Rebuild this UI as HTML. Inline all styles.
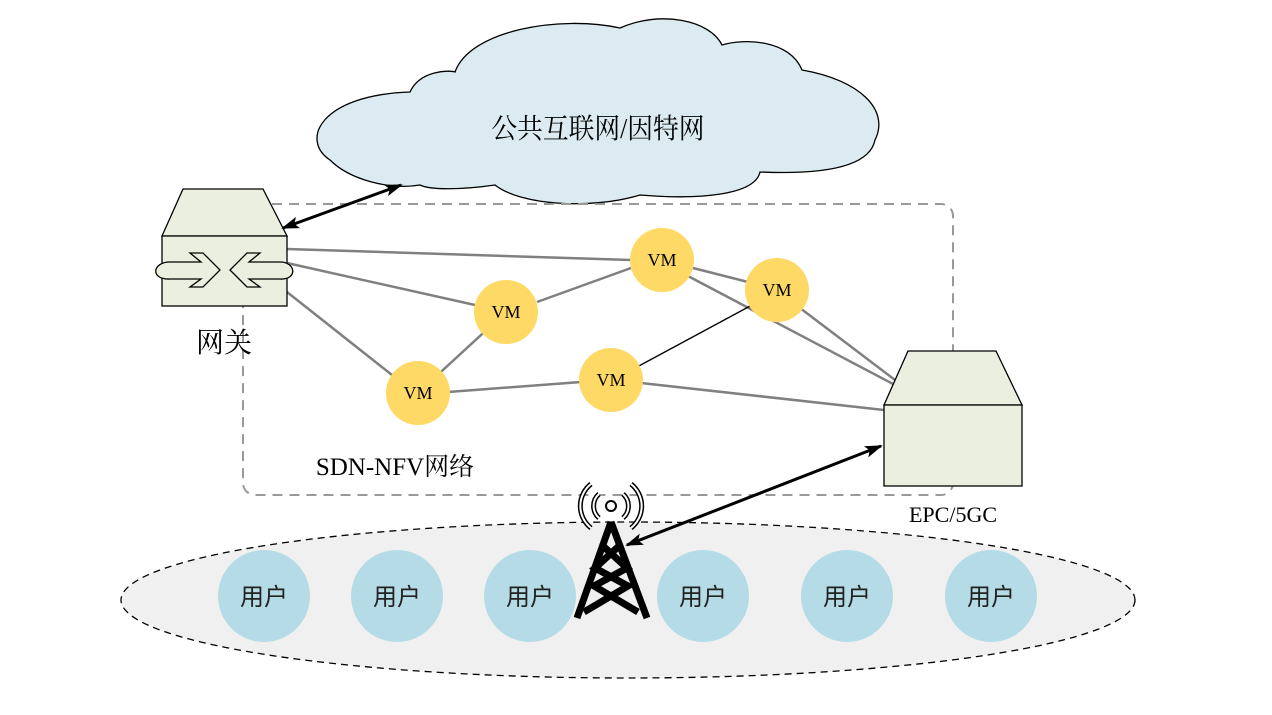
<!DOCTYPE html>
<html><head><meta charset="utf-8"><style>body{margin:0;background:#fff}svg{display:block}</style></head><body>
<svg width="1272" height="715" viewBox="0 0 1272 715" xmlns="http://www.w3.org/2000/svg" font-family="Liberation Serif, Noto Serif CJK SC, serif">
<defs><marker id="a" markerWidth="18" markerHeight="12" refX="16" refY="6" orient="auto-start-reverse" markerUnits="userSpaceOnUse"><path d="M0,0 L18,6 L0,12 L4,6z" fill="#000"/></marker></defs>
<path d="M330,160 C300,140 320,95 410,92 C420,70 450,70 455,72 C470,30 560,15 620,28 C660,10 710,20 722,45 C745,38 790,40 802,70 C860,80 890,110 875,140 C870,165 830,175 760,172 C755,195 700,200 640,195 C590,210 520,205 495,185 C460,190 430,190 420,185 C390,190 350,180 330,160 Z" fill="#dbebf1" stroke="#000" stroke-width="1.3"/>
<text x="598" y="138" font-size="28" text-anchor="middle" transform="translate(598 0) scale(0.92 1) translate(-598 0)">公共互联网/因特网</text>
<rect x="243" y="204" width="710" height="291" rx="12" fill="none" stroke="#999" stroke-width="2" stroke-dasharray="10,7"/>
<text x="395" y="475" font-size="25" text-anchor="middle">SDN-NFV网络</text>
<ellipse cx="628" cy="600" rx="507" ry="78" fill="#f0f0f0" stroke="#000" stroke-width="1.3" stroke-dasharray="7,5"/>
<g fill="#b5dce6"><circle cx="264" cy="596" r="46"/><circle cx="397" cy="596" r="46"/><circle cx="530" cy="596" r="46"/><circle cx="703" cy="596" r="46"/><circle cx="847" cy="596" r="46"/><circle cx="991" cy="596" r="46"/></g>
<g font-size="24" text-anchor="middle" font-family="Liberation Sans, Noto Sans CJK SC, sans-serif" fill="#222"><text x="264" y="605">用户</text><text x="397" y="605">用户</text><text x="530" y="605">用户</text><text x="703" y="605">用户</text><text x="847" y="605">用户</text><text x="991" y="605">用户</text></g>
<g stroke="#808080" stroke-width="2.5">
<line x1="287" y1="249" x2="631" y2="260"/><line x1="287" y1="263" x2="475" y2="305"/><line x1="287" y1="292" x2="392" y2="375"/>
<line x1="418" y1="393" x2="506" y2="312"/><line x1="448" y1="392" x2="581" y2="382"/><line x1="537" y1="302" x2="631" y2="268"/>
<line x1="693" y1="268" x2="748" y2="282"/><line x1="686" y1="275" x2="895" y2="385"/><line x1="800" y1="308" x2="895" y2="380"/><line x1="641" y1="383" x2="884" y2="410"/>
</g>
<line x1="637" y1="367" x2="752" y2="305" stroke="#000" stroke-width="1.3"/>
<g fill="#ffd966"><circle cx="662" cy="260" r="32"/><circle cx="777" cy="290" r="32"/><circle cx="506" cy="312" r="32"/><circle cx="418" cy="393" r="32"/><circle cx="611" cy="380" r="32"/></g>
<g font-size="18" text-anchor="middle"><text x="662" y="266">VM</text><text x="777" y="296">VM</text><text x="506" y="318">VM</text><text x="418" y="399">VM</text><text x="611" y="386">VM</text></g>
<path d="M162,236 L183,189 L263,189 L287,236 Z" fill="#ebefdf" stroke="#000" stroke-width="1.3"/>
<rect x="162" y="236" width="125" height="70" fill="#ebefdf" stroke="#000" stroke-width="1.3"/>
<path d="M170,279 C150,280 152,262 170,262 L201,262 L190,253 L203,253 L220,270 L203,287 L190,287 L201,279 Z" fill="#ebefdf" stroke="#000" stroke-width="1.3"/>
<path d="M280,279 C298,280 296,262 280,262 L249,262 L260,253 L247,253 L230,270 L247,287 L260,287 L249,279 Z" fill="#ebefdf" stroke="#000" stroke-width="1.3"/>
<text x="224" y="352" font-size="28" text-anchor="middle">网关</text>
<path d="M884,405 L908,351 L996,351 L1022,405 Z" fill="#ebefdf" stroke="#000" stroke-width="1.3"/>
<rect x="884" y="405" width="138" height="81" fill="#ebefdf" stroke="#000" stroke-width="1.3"/>
<text x="953" y="522" font-size="22" text-anchor="middle">EPC/5GC</text>
<line x1="283" y1="228" x2="401" y2="185" stroke="#000" stroke-width="3" marker-start="url(#a)" marker-end="url(#a)"/>
<line x1="627" y1="545" x2="881" y2="446" stroke="#000" stroke-width="3" marker-start="url(#a)" marker-end="url(#a)"/>
<g stroke="#000" stroke-width="7" fill="none">
<path d="M611,522 L577,618 M611,522 L647,618"/>
<path d="M603,546 L627,568 L594,586 L638,612 M619,546 L595,568 L628,586 L584,612"/>
</g>
<circle cx="611" cy="506" r="5" fill="#fff" stroke="#000" stroke-width="2"/>
<g fill="none" stroke="#000" stroke-width="5"><path d="M599,494 A16,16 0 0 0 599,518 M623,494 A16,16 0 0 1 623,518 M591,484 A28,28 0 0 0 591,528 M631,484 A28,28 0 0 1 631,528"/></g>
<g fill="none" stroke="#fff" stroke-width="2"><path d="M599,494 A16,16 0 0 0 599,518 M623,494 A16,16 0 0 1 623,518 M591,484 A28,28 0 0 0 591,528 M631,484 A28,28 0 0 1 631,528"/></g>
</svg>
</body></html>
